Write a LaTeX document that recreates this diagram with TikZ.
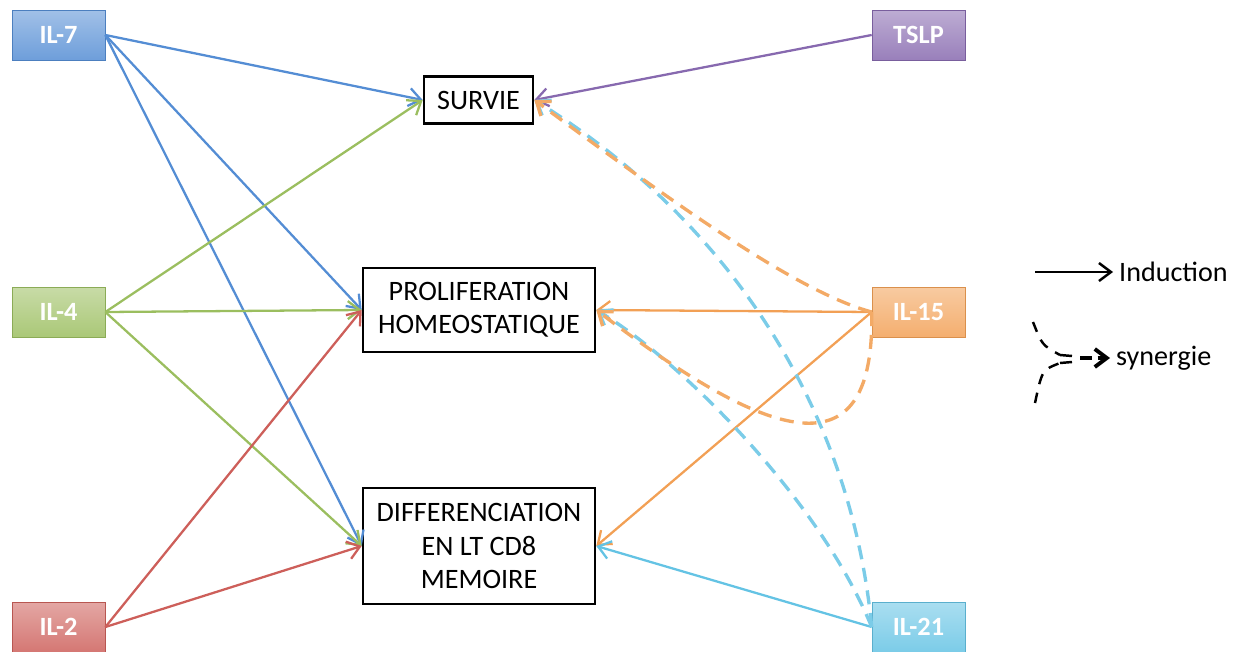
\documentclass[tikz,border=0pt]{standalone}
\usepackage{fontspec}
\setmainfont{Carlito}
\usetikzlibrary{arrows.meta}
\definecolor{il7c}{RGB}{84,141,212}
\definecolor{il4c}{RGB}{155,190,95}
\definecolor{il2c}{RGB}{205,95,90}
\definecolor{tslpc}{RGB}{135,105,175}
\definecolor{il15c}{RGB}{242,160,85}
\definecolor{il21c}{RGB}{100,195,228}

\begin{document}
\begin{tikzpicture}[x=0.02cm, y=-0.02cm,
    cyto/.style={rectangle, minimum width=1.86cm, minimum height=1cm, inner sep=0pt,
                 top color=#1!55, bottom color=#1!85, draw=#1!90!black, line width=0.4pt,
                 text=white, font=\fontsize{15}{18}\selectfont\bfseries},
    proc/.style={draw, line width=1.5pt, rectangle, inner sep=0pt, align=center,
                 minimum width=4.64cm, font=\fontsize{16}{19}\selectfont},
    arr/.style={-{Straight Barb[length=2.4mm, width=3.6mm]}, line width=1.3pt},
    syn/.style={-{Straight Barb[length=2.4mm, width=3.6mm]}, line width=1.9pt,
                dash pattern=on 8pt off 5pt},
    lbl/.style={anchor=west, font=\fontsize{16}{19}\selectfont}
  ]
  \useasboundingbox (0,0) rectangle (1240,652);

  % ================= CYTOKINES =================
  \node[cyto=il7c]  (il7)  at (58.5,35)  {IL-7};
  \node[cyto=il4c]  (il4)  at (58.5,312) {IL-4};
  \node[cyto=il2c]  (il2)  at (58.5,627) {IL-2};
  \node[cyto=tslpc] (tslp) at (918.5,35)  {TSLP};
  \node[cyto=il15c] (il15) at (918.5,312) {IL-15};
  \node[cyto=il21c] (il21) at (918.5,627) {IL-21};

  % ================= EFFETS =================
  \node[proc, minimum width=2.18cm, minimum height=0.94cm] (survie) at (478.5,100) {SURVIE};
  \node[proc, minimum height=1.68cm] (prolif) at (479,310) {PROLIFERATION\\HOMEOSTATIQUE};
  \node[proc, minimum height=2.32cm] (diff) at (479,546) {DIFFERENCIATION\\EN LT CD8\\MEMOIRE};

  % induction arrows
  \draw[arr, il7c] (il7.east) -- (survie.west);
  \draw[arr, il7c] (il7.east) -- (prolif.west);
  \draw[arr, il7c] (il7.east) -- (diff.west);
  \draw[arr, il4c] (il4.east) -- (survie.west);
  \draw[arr, il4c] (il4.east) -- (prolif.west);
  \draw[arr, il4c] (il4.east) -- (diff.west);
  \draw[arr, il2c] (il2.east) -- (prolif.west);
  \draw[arr, il2c] (il2.east) -- (diff.west);
  \draw[arr, tslpc] (tslp.west) -- (survie.east);
  \draw[arr, il15c] (il15.west) -- (prolif.east);
  \draw[arr, il15c] (il15.west) -- (diff.east);
  \draw[arr, il21c] (il21.west) -- (diff.east);

  % synergy (dashed)
  \draw[syn, il21c!85] (il21.west) .. controls (850,400) and (720,215) .. (survie.east);
  \draw[syn, il21c!85] (il21.west) .. controls (820,500) and (680,360) .. (prolif.east);
  \draw[syn, il15c!90] (il15.west) .. controls (790,290) and (650,185) .. (survie.east);
  \draw[syn, il15c!90] (il15.west) .. controls (875,470) and (780,450) .. (prolif.east);

  % ================= LEGENDE =================
  \coordinate (inda) at (1035,272);
  \node[lbl] (ind) at (1113,272) {Induction};
  \draw[arr, black, line width=1.4pt] (inda) -- (ind.west);

  \coordinate (syna) at (1033,322);
  \coordinate (synb) at (1035,403);
  \coordinate (synu) at (1060,355);
  \coordinate (synd) at (1060,363);
  \node[lbl] (synl) at (1110,358) {synergie};
  \draw[black, line width=1.4pt, dash pattern=on 6pt off 5pt]
    (syna) .. controls (1042,345) .. (synu);
  \draw[black, line width=1.4pt, dash pattern=on 6pt off 5pt]
    (synb) .. controls (1042,370) .. (synd);
  \draw[black, line width=1.4pt] (synu) -- ++(12,1) (synd) -- ++(12,-1);
  \draw[syn, black, line width=2.2pt, dash pattern=on 7pt off 3pt]
    (1080,358) -- (synl.west);
\end{tikzpicture}
\end{document}
